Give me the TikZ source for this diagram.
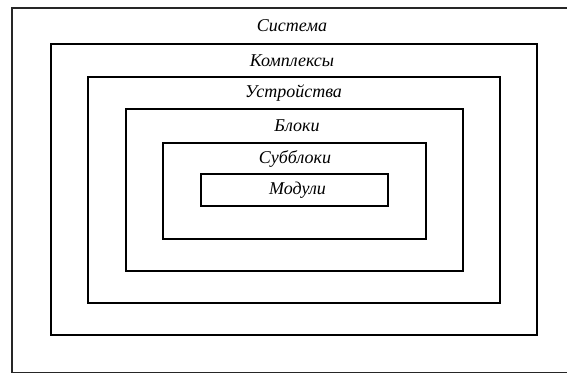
\documentclass[tikz,border=0pt]{standalone}
\usepackage{fontspec}
\setmainfont{Liberation Serif}
\begin{document}
\begin{tikzpicture}[x=1pt,y=-1pt,
  frame/.style={draw=black, line width=2.6pt, inner sep=0pt, fill=none},
  outerframe/.style={draw=black!85, line width=2pt, inner sep=0pt},
  lbl/.style={font=\fontsize{18}{20}\selectfont\itshape, inner sep=0pt, anchor=center}]
\clip (0,0) rectangle (567,372);
\fill[white] (0,0) rectangle (567,372);
% outer frame (System), partially outside the picture on the right and bottom
\node[outerframe, minimum width=568.5pt, minimum height=364.5pt] (sys) at (295.75,190.5) {};
\node[frame, minimum width=486pt, minimum height=291pt] (kompl) at (294,189.5) {};
\node[frame, minimum width=412pt, minimum height=226pt] (ustr) at (294,190) {};
\node[frame, minimum width=337pt, minimum height=162pt] (blok) at (294.5,190) {};
\node[frame, minimum width=263pt, minimum height=96pt] (subb) at (294.5,191) {};
\node[frame, minimum width=187pt, minimum height=32pt] (modu) at (294.5,190) {};
\node[lbl] (tsys) at (292,26) {Система};
\node[lbl] (tkompl) at (292,60.5) {Комплексы};
\node[lbl] (tustr) at (293.5,93) {Устройства};
\node[lbl] (tblok) at (297,126) {Блоки};
\node[lbl] (tsubb) at (295,158.5) {Субблоки};
\node[lbl] (tmodu) at (297.5,190) {Модули};
\end{tikzpicture}
\end{document}
